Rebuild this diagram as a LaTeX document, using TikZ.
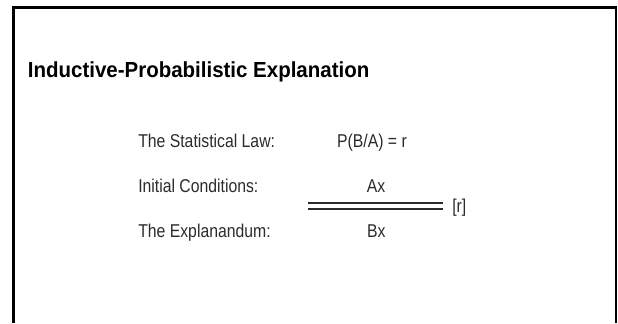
\documentclass[tikz,border=0pt]{standalone}
\usepackage{fontspec}
\setmainfont{Liberation Sans}
\newfontfamily\bodyfont{Liberation Sans}[FakeStretch=0.85]
\newfontfamily\headfont{Liberation Sans}[FakeStretch=0.94]
\usepackage{tikz}
\usetikzlibrary{positioning}
\usepackage{xcolor}
\definecolor{ink}{HTML}{2B2B2B}

\begin{document}
\begin{tikzpicture}[
  lbl/.style={anchor=base west, inner sep=0pt, text=ink, font=\bodyfont\fontsize{13.2}{16}\selectfont},
  term/.style={anchor=base, inner sep=0pt, text=ink, font=\bodyfont\fontsize{13.2}{16}\selectfont}]
  \useasboundingbox (0,0) rectangle (15.45,8.075);
  % frame, open at the bottom
  \draw[line width=2.1pt] (0.3375,0) -- (0.3375,7.8875) -- (15.42,7.8875);
  \draw[line width=1.4pt] (15.4,7.8875) -- (15.4,0);
  \node[anchor=base west, inner sep=0pt, font=\headfont\bfseries\fontsize{15.5}{18}\selectfont] (title) at (0.69,6.1425) {Inductive-Probabilistic Explanation};
  \node[lbl] (law) at (3.45,4.39) {The Statistical Law:};
  \node[lbl] (init) at (3.45,3.2675) {Initial Conditions:};
  \node[lbl] (expl) at (3.45,2.1425) {The Explanandum:};
  \node[lbl] (lawexpr) at (8.42,4.39) {P(B/A) = r};
  \node[term] (ax) at (9.4,3.2675) {Ax};
  \node[term] (bx) at (9.41,2.1425) {Bx};
  % inference bar
  \coordinate (barL) at (7.7,2.925);
  \coordinate (barR) at (11.085,2.925);
  \draw[ink, line width=1.1pt, double, double distance=3pt] (barL) -- (barR);
  \node[lbl] (prob) at (11.3,2.755) {[r]};
\end{tikzpicture}
\end{document}
